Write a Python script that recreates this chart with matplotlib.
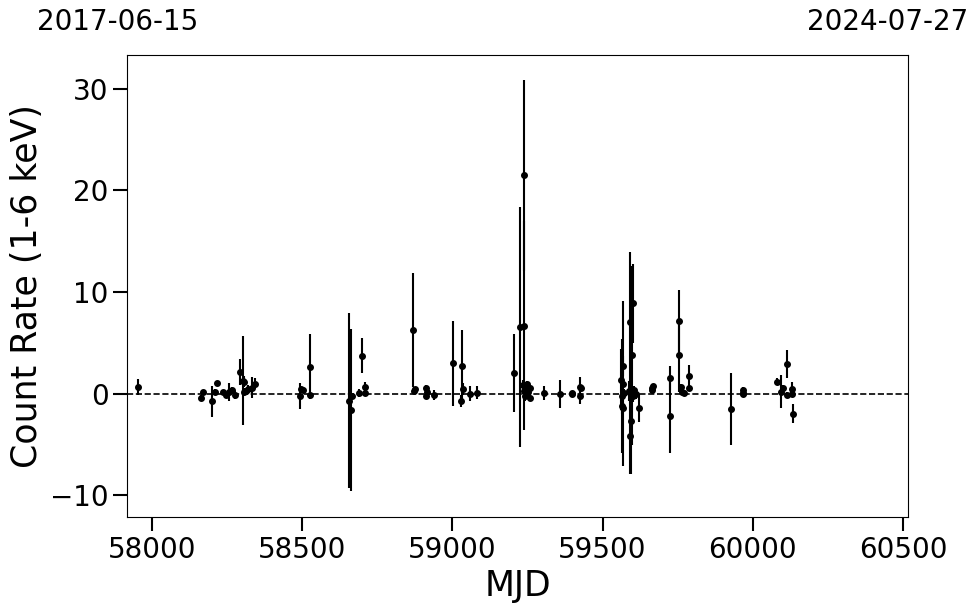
import matplotlib
matplotlib.use("Agg")
import matplotlib.pyplot as plt

# MJD, count rate (1-6 keV) and 1-sigma error
mjd = [57953, 58163, 58172, 58201, 58211, 58217, 58237, 58248, 58257, 58266,
       58277, 58294, 58305, 58308, 58307, 58313, 58320, 58333, 58344,
       58493, 58496, 58503, 58526, 58527,
       58655, 58662, 58665, 58688, 58701, 58710, 58711,
       58871, 58874, 58875, 58912, 58913, 58916, 58940,
       59001, 59030, 59032, 59035, 59058, 59082,
       59204, 59227, 59238, 59238, 59236, 59240, 59243, 59247, 59250, 59253,
       59257, 59260,
       59305, 59360, 59397, 59400, 59424, 59425, 59428,
       59562, 59565, 59568, 59566, 59569, 59567, 59570,
       59588, 59591, 59593, 59594, 59597, 59600, 59595, 59599, 59603, 59606,
       59610, 59623,
       59663, 59665, 59667, 59723, 59724,
       59754, 59755, 59760, 59765, 59772, 59788, 59789,
       59927, 59966, 59968, 59967,
       60080, 60093, 60100, 60113, 60113, 60129, 60129, 60134]
rate = [0.66, -0.4, 0.2, -0.75, 0.15, 1.05, 0.15, -0.1, 0.2, 0.35,
        -0.1, 2.15, 1.3, 1.2, 0.2, 0.3, 0.45, 0.6, 1.0,
        -0.25, 0.45, 0.4, 2.65, -0.15,
        -0.7, -1.6, -0.25, 0.1, 3.75, 0.65, 0.05,
        6.3, 0.25, 0.5, 0.55, -0.25, 0.15, -0.1,
        3.0, -0.7, 2.75, 0.45, 0.0, 0.1,
        2.05, 6.6, 6.7, 21.5, 0.9, 0.3, -0.2, 0.6, 1.0, 0.2,
        -0.4, 0.6,
        0.05, 0.0, -0.05, 0.1, 0.7, -0.2, 0.6,
        1.4, -0.25, 1.0, -1.2, 2.7, -1.4, 0.1,
        0.3, 7.1, -4.2, -2.7, 3.8, 8.9, 0.5, 0.1, -0.2, 0.4,
        0.0, -1.4,
        0.35, 0.6, 0.8, 1.55, -2.15,
        7.15, 3.8, 0.7, 0.2, 0.1, 1.7, 0.55,
        -1.5, 0.4, 0.1, 0.0,
        1.2, 0.2, 0.55, 2.95, -0.1, 0.45, 0.0, -1.95]
err = [0.8, 0.25, 0.2, 1.5, 0.3, 0.25, 0.2, 0.3, 0.9, 0.3,
       0.4, 1.25, 4.4, 0.5, 0.4, 0.3, 0.4, 1.0, 0.5,
       1.3, 0.3, 0.2, 3.2, 0.3,
       8.6, 8.0, 0.3, 0.4, 1.7, 0.5, 0.3,
       5.6, 0.3, 0.2, 0.3, 0.3, 0.3, 0.5,
       4.2, 0.6, 3.5, 0.6, 0.75, 0.65,
       3.8, 11.8, 10.3, 9.4, 0.5, 0.6, 0.5, 0.4, 0.3, 0.4,
       0.3, 0.3,
       0.7, 1.4, 0.3, 0.2, 0.9, 0.8, 0.3,
       3.0, 5.6, 8.1, 0.8, 1.0, 0.5, 0.4,
       1.0, 6.8, 3.7, 5.2, 8.8, 3.9, 0.6, 0.5, 0.6, 0.4,
       0.5, 1.4,
       0.3, 0.3, 0.2, 1.2, 3.7,
       3.1, 3.6, 0.3, 0.3, 0.3, 1.1, 0.3,
       3.5, 0.3, 0.3, 0.2,
       0.3, 1.65, 0.3, 1.4, 0.3, 0.7, 0.3, 0.95]

start_date = "2017-06-15"
end_date = "2024-07-27"
mjd_start = 57919
mjd_end = 60518

fig = plt.figure(figsize=(9.8, 6.13), dpi=100)
ax = fig.add_axes([0.130, 0.157, 0.797, 0.753])

ax.errorbar(mjd, rate, yerr=err, fmt='o', color='k', ms=4, elinewidth=1.5,
            capsize=0)
ax.axhline(0, color='k', ls='--', lw=1.2)

ax.set_xlim(mjd_start, mjd_end)
ax.set_ylim(-12.1, 33.3)
ax.set_xticks([58000, 58500, 59000, 59500, 60000, 60500])
ax.set_yticks([-10, 0, 10, 20, 30])
ax.tick_params(labelsize=20, length=10, width=1.5)

ax.set_xlabel("MJD", fontsize=25)
ax.set_ylabel("Count Rate (1-6 keV)", fontsize=25)

# dates of the plot edges
fig.text(0.120, 0.964, start_date, fontsize=20, ha='center', va='center')
fig.text(0.906, 0.964, end_date, fontsize=20, ha='center', va='center')

fig.savefig("out.png", dpi=100)
